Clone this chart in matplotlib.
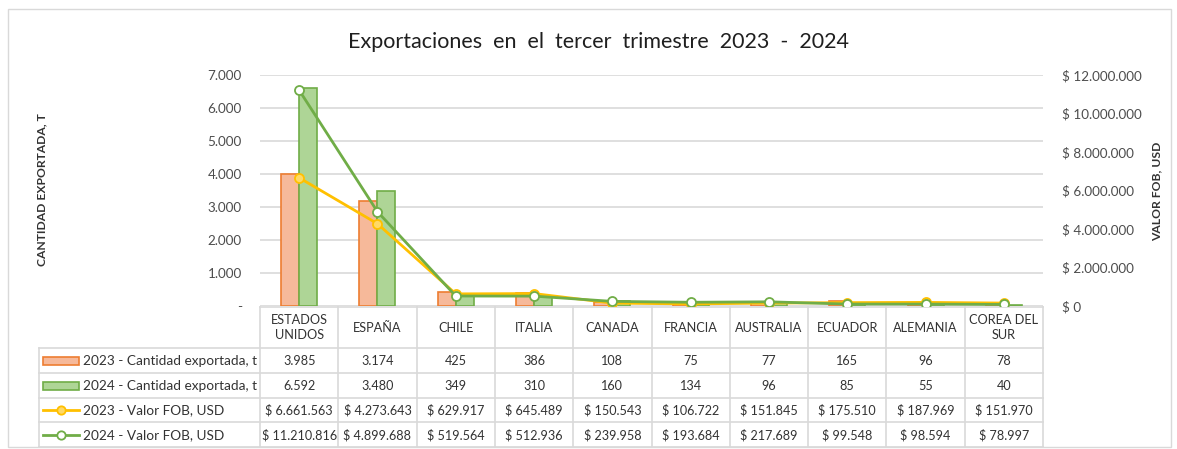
import matplotlib
matplotlib.use("Agg")
import matplotlib.pyplot as plt
from matplotlib.patches import Rectangle
from matplotlib.lines import Line2D

plt.rcParams['font.family'] = ['Lato', 'DejaVu Sans']

# datos
paises = ["ESTADOS\nUNIDOS", "ESPAÑA", "CHILE", "ITALIA", "CANADA", "FRANCIA",
          "AUSTRALIA", "ECUADOR", "ALEMANIA", "COREA DEL\nSUR"]
cant_2023 = [3985, 3174, 425, 386, 108, 75, 77, 165, 96, 78]
cant_2024 = [6592, 3480, 349, 310, 160, 134, 96, 85, 55, 40]
fob_2023 = [6661563, 4273643, 629917, 645489, 150543, 106722, 151845, 175510, 187969, 151970]
fob_2024 = [11210816, 4899688, 519564, 512936, 239958, 193684, 217689, 99548, 98594, 78997]
series_nombres = ["2023 - Cantidad exportada, t", "2024 - Cantidad exportada, t",
                  "2023 - Valor FOB, USD", "2024 - Valor FOB, USD"]

W, H = 1177, 449
NARANJA_F, NARANJA_E = "#F6B99A", "#ED7D31"
VERDE_F, VERDE_E = "#AED596", "#70AD47"
AMARILLO = "#FFC000"
GRIS = "#D9D9D9"
TXT = "#333333"

def miles(v):
    return f"{v:,}".replace(",", ".")

fig = plt.figure(figsize=(W / 100, H / 100), dpi=100)

# marco del grafico
fig.patches.append(Rectangle((8 / W, 1 - 447 / H), (1171 - 8) / W, (447 - 9) / H,
                             transform=fig.transFigure, fill=False, edgecolor=GRIS, lw=1))

# area de trazado
x0, x1, ytop, ybot = 260, 1043, 75, 306
ax = fig.add_axes([x0 / W, 1 - ybot / H, (x1 - x0) / W, (ybot - ytop) / H])
ax2 = ax.twinx()

n = len(paises)
xs = list(range(n))
bw = 0.23
ax.bar([x - bw / 2 for x in xs], cant_2023, width=bw, color=NARANJA_F, edgecolor=NARANJA_E, lw=1.2, zorder=3)
ax.bar([x + bw / 2 for x in xs], cant_2024, width=bw, color=VERDE_F, edgecolor=VERDE_E, lw=1.2, zorder=3)
ax.set_xlim(-0.5, n - 0.5)
ax.set_ylim(0, 7000)
ax.set_yticks(range(0, 7001, 1000))
ax.set_yticklabels(["-"] + [miles(v) for v in range(1000, 7001, 1000)])
ax.grid(axis='y', color=GRIS, lw=1.2, zorder=0)
ax.set_xticks([])
ax.tick_params(axis='y', length=0, pad=13, labelsize=9.7, labelcolor="#4D4D4D")
for s in ax.spines.values():
    s.set_visible(False)

ax2.plot(xs, fob_2023, color=AMARILLO, lw=2, marker='o', ms=6.5, mfc="#FFD966", mec=AMARILLO, mew=1.3, zorder=4)
ax2.plot(xs, fob_2024, color=VERDE_E, lw=2, marker='o', ms=6.5, mfc="white", mec=VERDE_E, mew=1.3, zorder=5)
ax2.set_ylim(0, 12000000)
ax2.set_yticks(range(0, 12000001, 2000000))
ax2.set_yticklabels(["$ 0"] + ["$ " + miles(v) for v in range(2000000, 12000001, 2000000)])
ax2.tick_params(axis='y', length=0, pad=14, labelsize=9.7, labelcolor="#4D4D4D")
for s in ax2.spines.values():
    s.set_visible(False)

# titulos
fig.text(599 / W, 1 - 42 / H, "Exportaciones  en  el  tercer  trimestre  2023  -  2024",
         ha='center', va='center', fontsize=15.5, color="#1F1F1F")
fig.text(42 / W, 1 - 190 / H, "CANTIDAD EXPORTADA, T", rotation=90, ha='center', va='center',
         fontsize=8.7, fontweight='bold', color=TXT)
fig.text(1157 / W, 1 - 191 / H, "VALOR FOB, USD", rotation=90, ha='center', va='center',
         fontsize=8.7, fontweight='bold', color=TXT)

# tabla de datos
tb = fig.add_axes([0, 0, 1, 1], zorder=-1)
tb.set_xlim(0, W)
tb.set_ylim(H, 0)
tb.axis('off')

cw = (x1 - x0) / n
lab_x0 = 39
filas = [307, 348, 373, 398, 422, 447]
# lineas
tb.plot([x0, x1], [filas[0]] * 2, color=GRIS, lw=1.2)
for y in filas[1:]:
    tb.plot([lab_x0, x1], [y, y], color=GRIS, lw=1.2)
tb.plot([lab_x0, lab_x0], [filas[1], filas[-1]], color=GRIS, lw=1.2)
for k in range(n + 1):
    tb.plot([x0 + k * cw] * 2, [filas[0], filas[-1]], color=GRIS, lw=1.2)

for k, p in enumerate(paises):
    cx = x0 + (k + 0.5) * cw
    tb.text(cx, (filas[0] + filas[1]) / 2, p, ha='center', va='center', fontsize=9.2,
            color=TXT, linespacing=1.25)

valores = [
    [miles(v) for v in cant_2023],
    [miles(v) for v in cant_2024],
    ["$ " + miles(v) for v in fob_2023],
    ["$ " + miles(v) for v in fob_2024],
]
for r, fila in enumerate(valores):
    cy = (filas[r + 1] + filas[r + 2]) / 2
    for k, t in enumerate(fila):
        tb.text(x0 + (k + 0.5) * cw, cy + 0.5, t, ha='center', va='center', fontsize=9.1, color=TXT)
    tb.text(83, cy + 0.5, series_nombres[r], ha='left', va='center', fontsize=9.8, color=TXT)

# claves de la leyenda
kx0, kx1 = 43, 79
for r, (fc, ec) in enumerate([(NARANJA_F, NARANJA_E), (VERDE_F, VERDE_E)]):
    cy = (filas[r + 1] + filas[r + 2]) / 2
    tb.add_patch(Rectangle((kx0, cy - 4), kx1 - kx0, 8, facecolor=fc, edgecolor=ec, lw=1.2))
for r, (lc, mf) in enumerate([(AMARILLO, "#FFD966"), (VERDE_E, "white")]):
    cy = (filas[r + 3] + filas[r + 4]) / 2
    tb.add_line(Line2D([kx0, kx1], [cy, cy], color=lc, lw=2))
    tb.add_line(Line2D([(kx0 + kx1) / 2], [cy], color=lc, marker='o', ms=6, mfc=mf, mec=lc, mew=1.3))

fig.savefig("out.png", dpi=100)
